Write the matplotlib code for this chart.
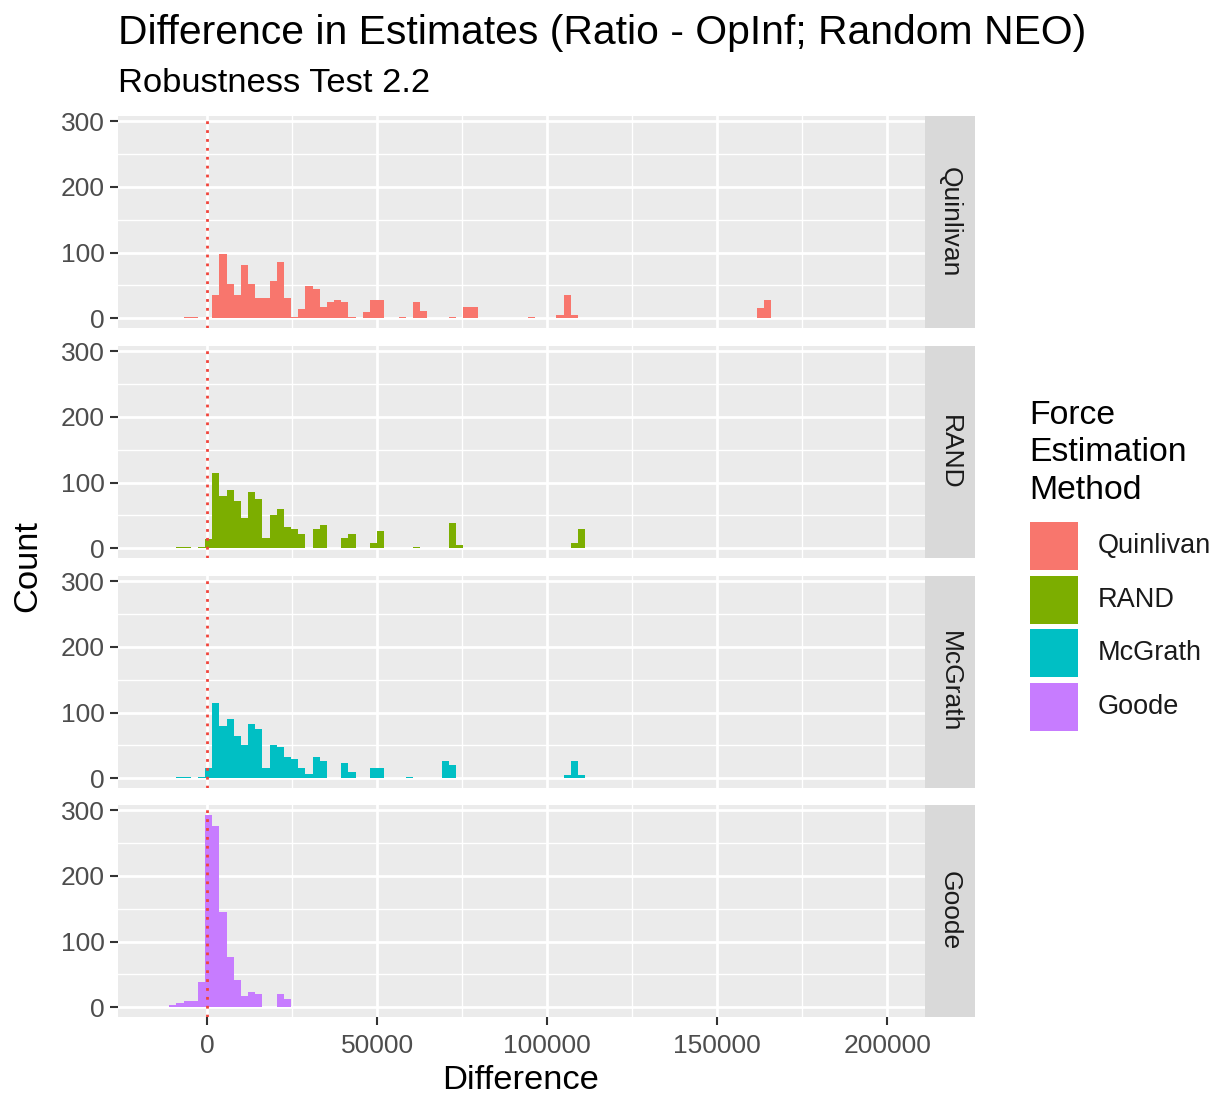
import numpy as np
import matplotlib
matplotlib.use("Agg")
import matplotlib.pyplot as plt
from matplotlib.patches import Rectangle

plt.rcParams['font.family'] = ['Liberation Sans', 'DejaVu Sans']

# histogram bins: left edge of bin i = BIN_ORIGIN + i * BIN_WIDTH
BIN_ORIGIN = 1470
BIN_WIDTH = 2108
FIRST_BIN, LAST_BIN = -6, 78

methods = ["Quinlivan", "RAND", "McGrath", "Goode"]
colors = ["#F8766D", "#7CAE00", "#00BFC4", "#C77CFF"]

quinlivan_bins = [-4, -3, 0, 1, 2, 3, 4, 5, 6, 7, 8, 9, 10, 11, 12, 13, 14, 15, 16, 17, 18, 19,
                  21, 22, 23, 26, 28, 29, 33, 35, 36, 44, 48, 49, 50, 76, 77]
quinlivan_counts = [2, 2, 35, 98, 53, 35, 81, 53, 31, 31, 57, 85, 31, 2, 14, 49, 45, 17, 25, 28, 25, 2,
                    10, 28, 28, 2, 25, 11, 2, 18, 18, 2, 5, 35, 5, 16, 28]

rand_bins = [-5, -4, -2, -1, 0, 1, 2, 3, 4, 5, 6, 7, 8, 9, 10, 11, 12, 14, 15, 18, 19,
             22, 23, 28, 33, 34, 50, 51]
rand_counts = [2, 2, 2, 14, 115, 79, 89, 72, 46, 85, 75, 15, 50, 60, 32, 29, 22, 30, 36, 15, 22,
               8, 26, 2, 38, 5, 8, 29]

mcgrath_bins = [-5, -4, -2, -1, 0, 1, 2, 3, 4, 5, 6, 7, 8, 9, 10, 11, 12, 13, 14, 15, 18, 19,
                22, 23, 27, 32, 33, 49, 50, 51]
mcgrath_counts = [2, 2, 2, 16, 114, 80, 90, 65, 51, 83, 75, 16, 51, 47, 33, 29, 16, 6, 33, 27, 23, 9,
                  16, 16, 2, 27, 20, 5, 27, 5]

goode_bins = [-6, -5, -4, -3, -2, -1, 0, 1, 2, 3, 4, 5, 6, 9, 10]
goode_counts = [3, 6, 9, 10, 38, 293, 276, 145, 77, 41, 17, 23, 20, 20, 13]

all_bins = [quinlivan_bins, rand_bins, mcgrath_bins, goode_bins]
all_counts = [quinlivan_counts, rand_counts, mcgrath_counts, goode_counts]

x_ticks = [0, 50000, 100000, 150000, 200000]
y_ticks = [0, 100, 200, 300]

W, H = 1221, 1097
fig = plt.figure(figsize=(W / 100, H / 100), dpi=100)

def fx(px):
    return px / W

def fy(py):
    return 1 - py / H

edges = BIN_ORIGIN + BIN_WIDTH * np.arange(FIRST_BIN, LAST_BIN + 1)
panel_tops = [116, 346, 576, 805]
panel_h = 212
left, right = 118, 925

for k, name in enumerate(methods):
    top = panel_tops[k]
    ax = fig.add_axes([fx(left), fy(top + panel_h), fx(right - left), panel_h / H])
    ax.set_facecolor("#EBEBEB")
    for s in ax.spines.values():
        s.set_visible(False)

    counts = np.zeros(len(edges) - 1)
    for b, c in zip(all_bins[k], all_counts[k]):
        counts[b - FIRST_BIN] = c
    ax.stairs(counts, edges, fill=True, color=colors[k], zorder=3, linewidth=0)
    ax.axvline(0, color="#F0433A", linestyle=(0, (1, 2.2)), linewidth=2.0, zorder=4)

    ax.set_xlim(-26260, 211070)
    ax.set_ylim(-14.65, 307.65)
    ax.set_yticks(y_ticks)
    ax.set_xticks(x_ticks)
    ax.set_xticks([25000, 75000, 125000, 175000], minor=True)
    ax.set_yticks([50, 150, 250], minor=True)
    ax.grid(which="major", color="white", linewidth=2.0, zorder=0)
    ax.grid(which="minor", color="white", linewidth=1.0, zorder=0)
    ax.set_axisbelow(True)
    ax.tick_params(which="major", length=6, width=1.5, color="#333333",
                   labelsize=19, labelcolor="#4D4D4D", pad=3.5)
    ax.tick_params(which="minor", length=0)
    if k < 3:
        ax.tick_params(axis="x", labelbottom=False, length=0)
    else:
        ax.tick_params(axis="x", pad=6)

    # facet strip on the right
    sax = fig.add_axes([fx(right), fy(top + panel_h), fx(50), panel_h / H])
    sax.set_facecolor("#D9D9D9")
    sax.set_xticks([])
    sax.set_yticks([])
    for s in sax.spines.values():
        s.set_visible(False)
    sax.text(0.5, 0.5, name, rotation=-90, ha="center", va="center",
             fontsize=19, color="#1A1A1A", transform=sax.transAxes)

# titles
fig.text(fx(118), fy(44), "Difference in Estimates (Ratio - OpInf; Random NEO)",
         fontsize=29.4, ha="left", va="baseline")
fig.text(fx(118), fy(92), "Robustness Test 2.2", fontsize=24.8, ha="left", va="baseline")
fig.text(fx(521), fy(1089), "Difference", fontsize=24.8, ha="center", va="baseline")
fig.text(fx(28), fy(566), "Count", fontsize=24.8, ha="center", va="center", rotation=90)

# legend
fig.text(fx(1029), fy(400), "Force\nEstimation\nMethod", fontsize=24.3, ha="left", va="top",
         linespacing=1.27)
key_tops = [522, 576, 629, 683]
for name, col, kt in zip(methods, colors, key_tops):
    fig.add_artist(Rectangle((fx(1030), fy(kt + 48)), fx(48), 48 / H, transform=fig.transFigure,
                             facecolor=col, edgecolor="none"))
    fig.text(fx(1098), fy(kt + 24), name, fontsize=19.5, ha="left", va="center", color="#1A1A1A")

fig.savefig("out.png", dpi=100, facecolor="white")
